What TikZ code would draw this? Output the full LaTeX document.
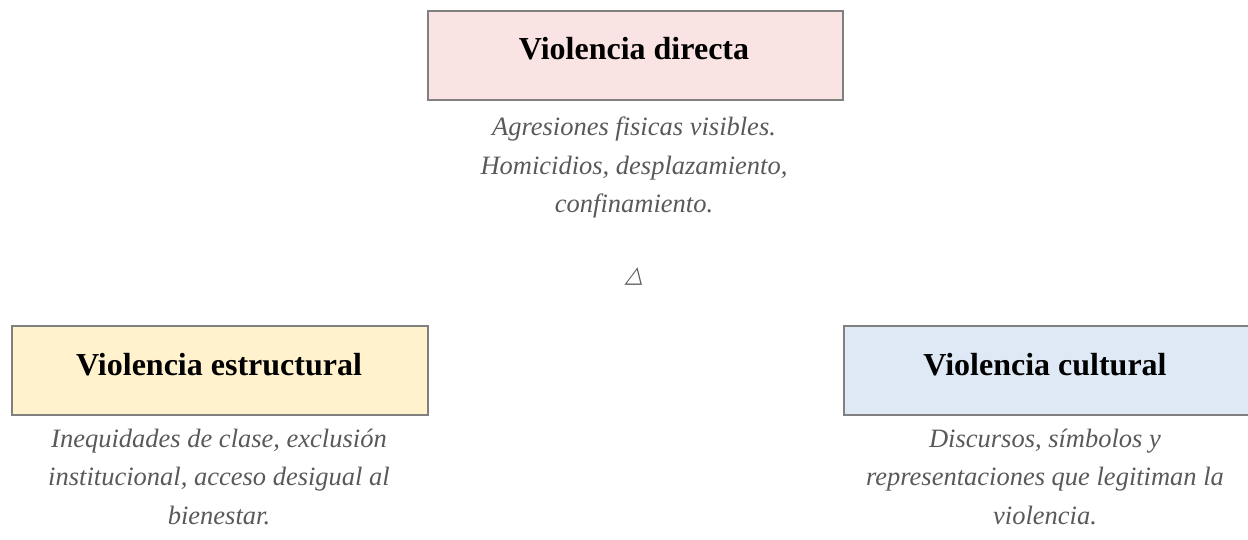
\documentclass[tikz,border=0pt]{standalone}
\usepackage{fontspec}
\setmainfont{Liberation Serif}
\newfontfamily\symfont[FakeSlant=0.25]{DejaVu Sans}
\definecolor{pinkfill}{HTML}{FAE3E3}
\definecolor{yellowfill}{HTML}{FFF2CC}
\definecolor{bluefill}{HTML}{DEE9F5}
\definecolor{boxline}{HTML}{808080}
\definecolor{desctext}{HTML}{595959}
\tikzset{
  headbox/.style={draw=boxline, line width=1.8pt, minimum height=89pt, anchor=north west},
  headtext/.style={inner sep=0pt, anchor=base, font=\fontsize{32}{36}\selectfont\bfseries},
  desc/.style={text=desctext, align=center, inner sep=0pt, font=\fontsize{26.5}{38.5}\selectfont\itshape, anchor=base},
}
\begin{document}
\begin{tikzpicture}[x=1pt,y=-1pt]
\useasboundingbox (0,0) rectangle (1248,540);
\node[headbox, fill=pinkfill, minimum width=415pt] (direct) at (427,10) {};
\node[headtext] (directt) at (634,60) {Violencia directa};
\node[desc] (directdesc) at (634,213) {Agresiones fisicas visibles.\\Homicidios, desplazamiento,\\confinamiento.};
\node[text=desctext, inner sep=0pt, font=\symfont\fontsize{23}{24}\selectfont] (tri) at (634,277) {△};
\node[headbox, fill=yellowfill, minimum width=416pt] (struct) at (11,325) {};
\node[headtext] (structt) at (219,375) {Violencia estructural};
\node[desc] (structdesc) at (219,524) {Inequidades de clase, exclusión\\institucional, acceso desigual al\\bienestar.};
\node[headbox, fill=bluefill, minimum width=406pt] (cult) at (843,325) {};
\node[headtext] (cultt) at (1045,375) {Violencia cultural};
\node[desc] (cultdesc) at (1045,524) {Discursos, símbolos y\\representaciones que legitiman la\\violencia.};
\end{tikzpicture}
\end{document}
